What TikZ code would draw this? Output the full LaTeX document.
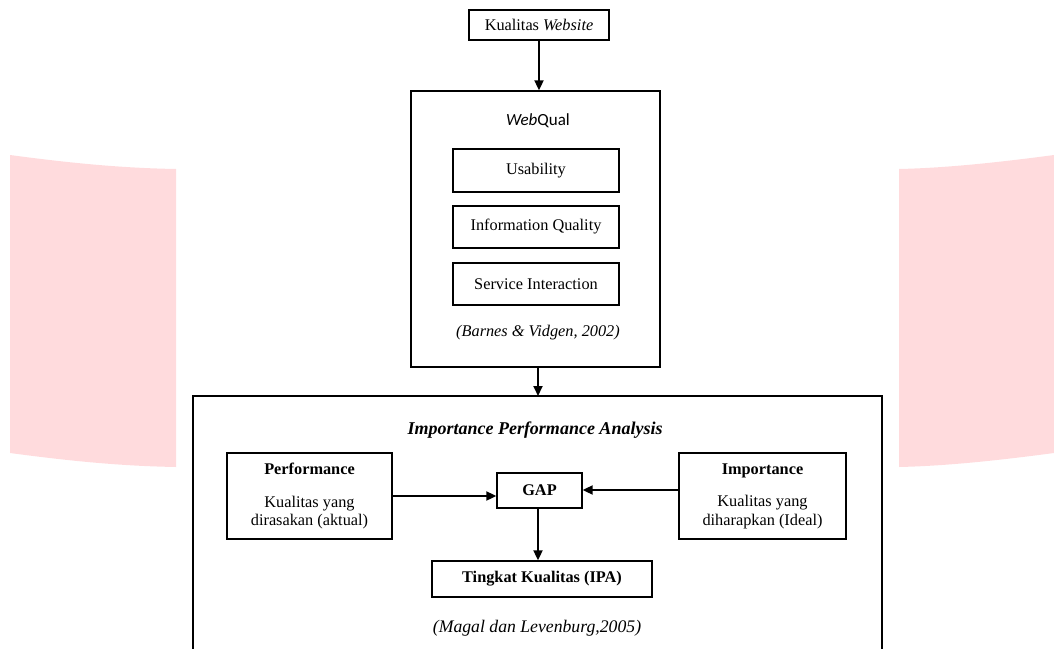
\documentclass[tikz,border=0pt]{standalone}
\usepackage{fontspec}
\setmainfont{Liberation Serif}
\newfontfamily\qualfont{Carlito}
\usepackage{xcolor}
\usetikzlibrary{arrows.meta, positioning, calc}

\definecolor{wmpink}{RGB}{255,219,221}

\tikzset{
    box/.style={draw, line width=1.3pt, inner sep=0pt, align=center},
    frame/.style={draw, line width=1.3pt},
    link/.style={-{Triangle[length=10pt, width=9pt]}, line width=1.8pt},
    txt/.style={font=\fontsize{16.3}{18.5}\selectfont, align=center}
}

\begin{document}
\begin{tikzpicture}[x=1pt, y=-1pt, every node/.style={font=\fontsize{16.3}{18.5}\selectfont}]
    \useasboundingbox (0,0) rectangle (1054,648);
    \clip (0,0) rectangle (1054,648);

    % Watermark bands
    \fill[wmpink] (10,155) .. controls (70,163) and (120,168) .. (176,169) -- (176,467) .. controls (120,466) and (70,461) .. (10,453) -- cycle;
    \fill[wmpink] (1054,155) .. controls (994,163) and (944,168) .. (899,169) -- (899,467) .. controls (944,466) and (994,461) .. (1054,453) -- cycle;

    % Top box
    \node[box, minimum width=140pt, minimum height=30pt] (kualitas) at (539,25) {Kualitas \textit{Website}};

    % WebQual container
    \node[box, minimum width=249pt, minimum height=276pt] (webqual) at (535.5,229) {};
    \node (webqualtitle) at (538,121) {\qualfont\fontsize{17}{20}\selectfont\textit{Web}Qual};
    \node[box, minimum width=166pt, minimum height=43pt] (usability) at (536,170.5) {Usability};
    \node[box, minimum width=166pt, minimum height=42pt] (infoq) at (536,227) {Information Quality};
    \node[box, minimum width=166pt, minimum height=42pt] (service) at (536,284) {Service Interaction};
    \node (barnes) at (538,333) {\textit{(Barnes \& Vidgen, 2002)}};

    % IPA container
    \draw[frame] (193,396) rectangle (882,665);
    \coordinate (ipatop) at (538,396);
    \node (ipatitle) at (535,430) {\fontsize{18}{20}\selectfont\textbf{\textit{Importance Performance Analysis}}};
    \node[box, minimum width=165pt, minimum height=86pt] (perf) at (309.5,496) {\textbf{Performance}\\[14pt]Kualitas yang\\dirasakan (aktual)};
    \node[box, minimum width=85pt, minimum height=35pt] (gap) at (539.5,490.5) {\textbf{GAP}};
    \node[box, minimum width=167pt, minimum height=86pt] (imp) at (762.5,496) {\textbf{Importance}\\[14pt]Kualitas yang\\diharapkan (Ideal)};
    \node[box, minimum width=220pt, minimum height=36pt] (tingkat) at (542,579) {\textbf{Tingkat Kualitas (IPA)}};
    \node (magal) at (537,628) {\fontsize{17.7}{20}\selectfont\textit{(Magal dan Levenburg,2005)}};

    % Connectors
    \draw[link] (kualitas.south) -- (kualitas.south |- webqual.north);
    \draw[link] (webqual.south -| ipatop) -- (ipatop);
    \draw[link] (perf.east) -- (perf.east -| gap.west);
    \draw[link] ($(imp.west)+(0,-6)$) -- ($(imp.west -| gap.east)+(0,-6)$);
    \draw[link] (gap.south -| ipatop) -- (ipatop |- tingkat.north);
\end{tikzpicture}
\end{document}
